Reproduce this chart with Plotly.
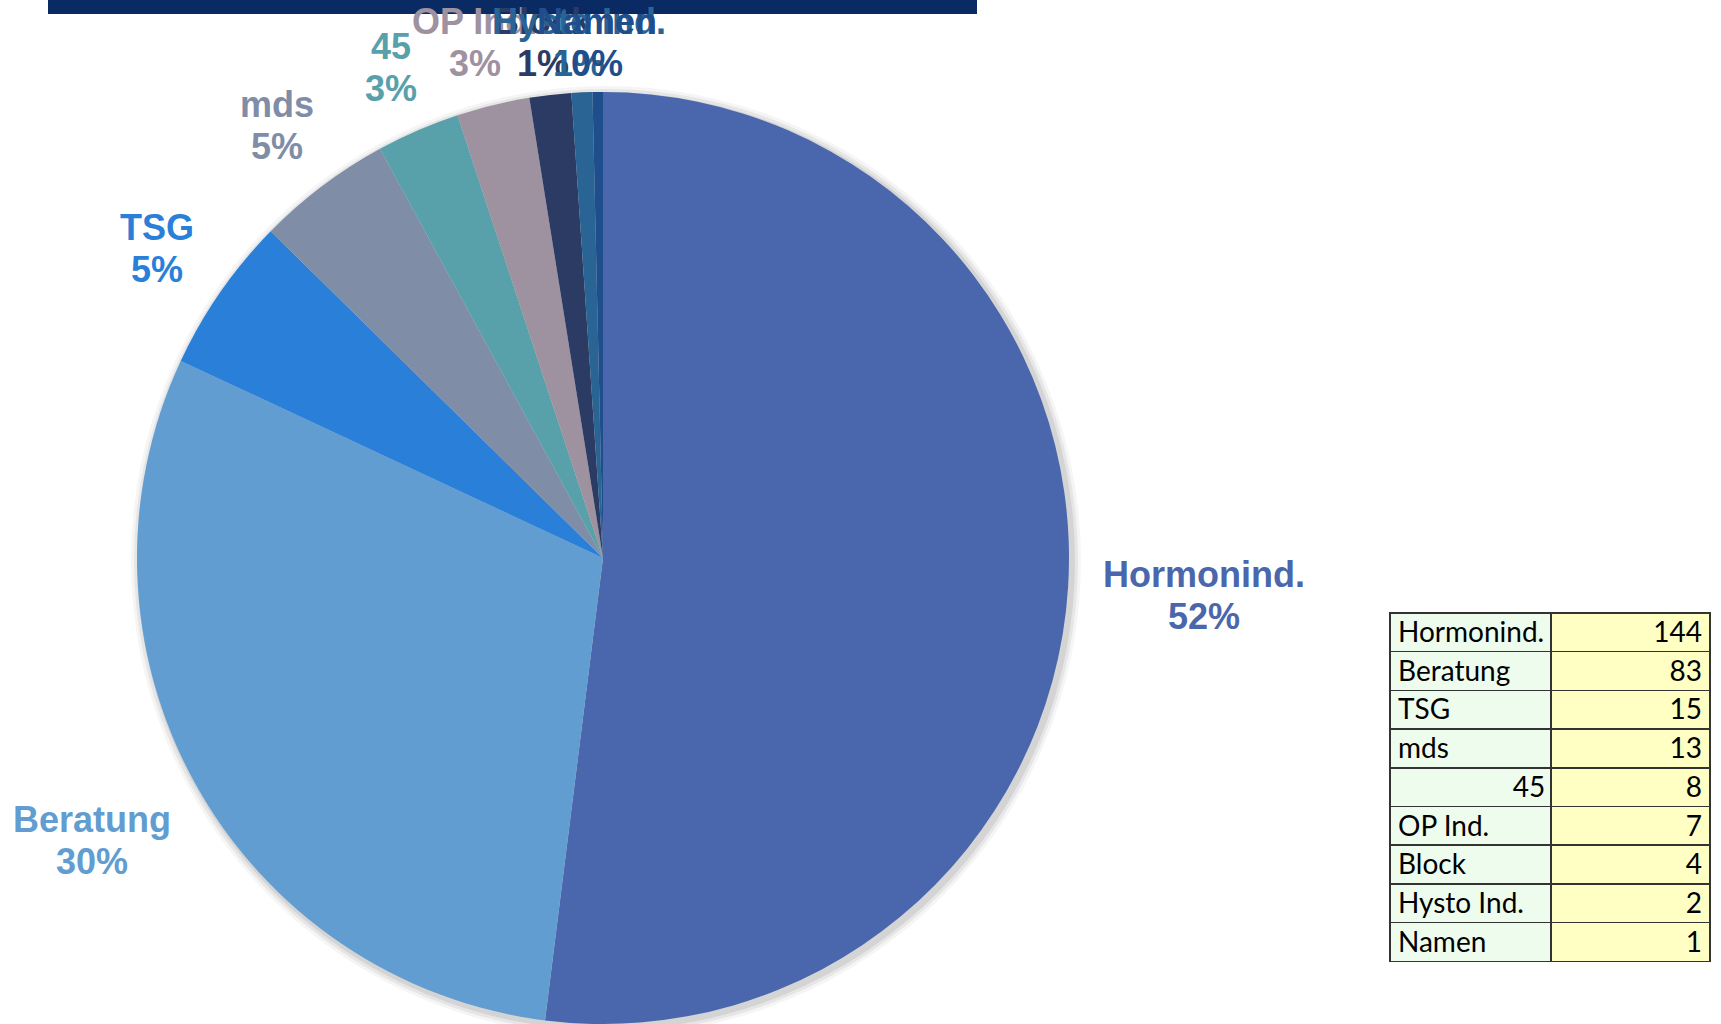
import numpy as np
import plotly.graph_objects as go

# データ
labels = ["Hormonind.", "Beratung", "TSG", "mds", "45", "OP Ind.", "Block", "Hysto Ind.", "Namen"]
values = [144, 83, 15, 13, 8, 7, 4, 2, 1]
colors = ["#4A67AD", "#619DD0", "#2A7FD9", "#7F8DA7", "#58A1AB",
          "#9E91A0", "#2C3B63", "#2A6494", "#1F4E8C"]
table_names = ["Hormonind.", "Beratung", "TSG", "mds", "45", "OP Ind.", "Block", "Hysto Ind.", "Namen"]
table_values = ["144", "83", "15", "13", "8", "7", "4", "2", "1"]

W, H = 1721, 1024
cx, cy, R = 603, 558, 466  # 円の中心と半径 (px)
fs = 36

fig = go.Figure()

fig.add_trace(go.Pie(
    labels=labels,
    values=values,
    sort=False,
    direction="clockwise",
    rotation=0,
    marker=dict(colors=colors, line=dict(width=0)),
    textinfo="none",
    hoverinfo="label+value+percent",
    showlegend=False,
    domain=dict(x=[(cx - R) / W, (cx + R) / W], y=[0, 1 - (cy - R) / H]),
))

# ラベル（各扇形の中央角から外側に配置、上端ははみ出さないように）
vals = np.array(values, dtype=float)
frac = vals / vals.sum()
mid = np.cumsum(frac) - frac / 2
annotations = []
for name, f, m, col in zip(labels, frac, mid, colors):
    ang = 2 * np.pi * m
    s, c = np.sin(ang), np.cos(ang)
    pct = f"{round(f * 100):.0f}%"
    hw = max(len(name), len(pct)) * 0.27 * fs
    hh = fs * 0.7
    d = R + 38 + hw * abs(s) + hh * abs(c)
    px = cx + d * s
    py = max(cy - d * c, 42)
    for txt, dy in [(name, -21), (pct, 21)]:
        annotations.append(dict(
            x=px / W, y=1 - (py + dy) / H, xref="paper", yref="paper",
            text=f"<b>{txt}</b>", showarrow=False,
            xanchor="center", yanchor="middle", align="center",
            font=dict(family="Liberation Sans, Arial", size=fs, color=col),
        ))

# 表 (数値だけの名前は右寄せ風にする)
name_cells = [("\u00a0" * 16 + n) if n.isdigit() else n for n in table_names]
tfont = dict(family="Lato, Carlito, sans-serif", size=28, color="black")
fig.add_trace(go.Table(
    domain=dict(x=[1390 / W, 1711 / W], y=[1 - 962 / H, 1 - 613 / H]),
    columnwidth=[161, 159],
    header=dict(
        values=[name_cells[0], table_values[0]],
        fill_color=["#EEFCEE", "#FFFFC4"],
        line=dict(color="#333333", width=1.5),
        align=["left", "right"],
        font=tfont,
        height=38.7,
    ),
    cells=dict(
        values=[name_cells[1:], table_values[1:]],
        fill_color=["#EEFCEE", "#FFFFC4"],
        line=dict(color="#333333", width=1.5),
        align=["left", "right"],
        font=tfont,
        height=38.7,
    ),
))

shapes = [
    # 上部の帯
    dict(type="rect", xref="paper", yref="paper",
         x0=48 / W, x1=977 / W, y0=1 - 14 / H, y1=1.0,
         fillcolor="#0A2A63", line=dict(width=0)),
]
# 円の影
for extra, op in [(9, 0.04), (6, 0.06), (3, 0.08)]:
    shapes.append(dict(type="circle", xref="paper", yref="paper", layer="below",
                       x0=(cx - R - extra + 3) / W, x1=(cx + R + extra + 3) / W,
                       y0=1 - (cy + R + extra + 3) / H, y1=1 - (cy - R - extra + 3) / H,
                       fillcolor=f"rgba(0,0,0,{op})", line=dict(width=0)))

fig.update_layout(
    width=W, height=H,
    margin=dict(l=0, r=0, t=0, b=0),
    paper_bgcolor="white",
    plot_bgcolor="white",
    annotations=annotations,
    shapes=shapes,
)

fig.write_html("out.html", config={"displayModeBar": False},
               post_script="document.body.style.margin='0';")
